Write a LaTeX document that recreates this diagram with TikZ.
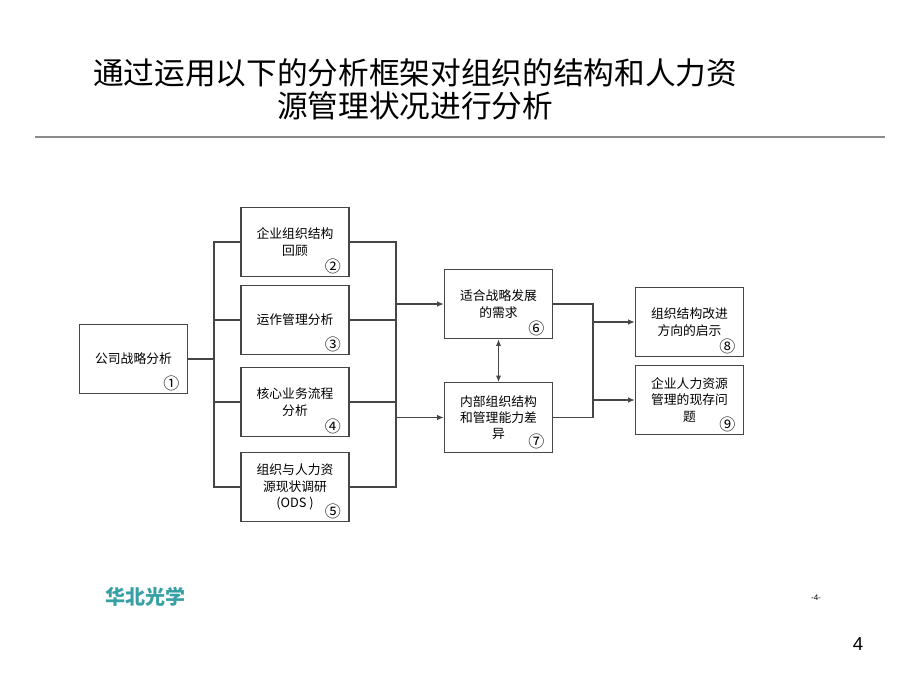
\documentclass[tikz,border=0pt]{standalone}
\usepackage{fontspec}
\setmainfont{Liberation Sans}
\newfontfamily\cjk{Noto Sans CJK SC}
\usetikzlibrary{arrows.meta}

\definecolor{linegray}{RGB}{70,70,70}
\definecolor{rulegray}{RGB}{140,140,140}
\definecolor{logoteal}{RGB}{55,160,165}

\tikzset{
    box/.style={draw=linegray, line width=0.9pt, minimum width=81pt, minimum height=52pt,
        inner sep=2pt, align=center, font=\cjk\fontsize{9.6}{12.2}\selectfont},
    num/.style={inner sep=0pt, font=\cjk\fontsize{12}{12}\selectfont},
    conn/.style={draw=linegray, line width=0.9pt},
    arr/.style={conn, -{Latex[length=5pt,width=4pt]}}
}

\begin{document}
\begin{tikzpicture}[x=0.75pt, y=-0.75pt]
    \useasboundingbox (0,0) rectangle (920,690);

    % title and rule
    \node[align=center, font=\cjk\fontsize{23}{25}\selectfont] (title) at (415,89)
        {通过运用以下的分析框架对组织的结构和人力资\\源管理状况进行分析};
    \draw[rulegray, line width=1.5pt] (35,137) -- (885,137);

    % boxes
    \node[box] (b1) at (133.5,359) {公司战略分析};
    \node[box] (b2) at (295,242) {企业组织结构\\回顾};
    \node[box] (b3) at (295,320) {运作管理分析};
    \node[box] (b4) at (295,402) {核心业务流程\\分析};
    \node[box] (b5) at (295,487) {组织与人力资\\源现状调研\\(ODS )};
    \node[box] (b6) at (498.5,304) {适合战略发展\\的需求};
    \node[box] (b7) at (498.5,417.5) {内部组织结构\\和管理能力差\\异};
    \node[box] (b8) at (689.5,322) {组织结构改进\\方向的启示};
    \node[box] (b9) at (689.5,400) {企业人力资源\\管理的现存问\\题};

    % numbers
    \foreach \n/\c in {1/①,2/②,3/③,4/④,5/⑤,6/⑥,7/⑦,8/⑧,9/⑨}
        \node[num] (n\n) at ([xshift=-12.5pt,yshift=8.5pt]b\n.south east) {\c};

    % connectors
    \coordinate (busL) at (214,359);
    \coordinate (busR) at (396,304);
    \coordinate (busM) at (593,322);
    \foreach \n in {2,...,5}
        \draw[conn] (b1.east) -- (busL) |- (b\n.west);
    \foreach \n in {2,...,5}
        \draw[conn] (b\n.east) -| (busR);
    \draw[arr] (busR) -- (b6.west);
    \draw[arr] (busR |- b7.west) -- (b7.west);
    \draw[conn, {Latex[length=5pt,width=4pt]}-{Latex[length=5pt,width=4pt]}] (b6.south) -- (b7.north);
    \draw[conn] (b6.east) -| (busM);
    \draw[conn] (b7.east) -| (busM);
    \draw[arr] (busM) -- (b8.west);
    \draw[arr] (busM |- b9.west) -- (b9.west);

    % footer
    \node[logoteal, font=\cjk\bfseries\fontsize{15}{15}\selectfont] (logo) at (145,597) {华北光学};
    \node[font=\fontsize{6}{6}\selectfont] (pg) at (816,598) {-4-};
    \node[font=\fontsize{14}{14}\selectfont] (slide) at (858,644) {4};
\end{tikzpicture}
\end{document}
